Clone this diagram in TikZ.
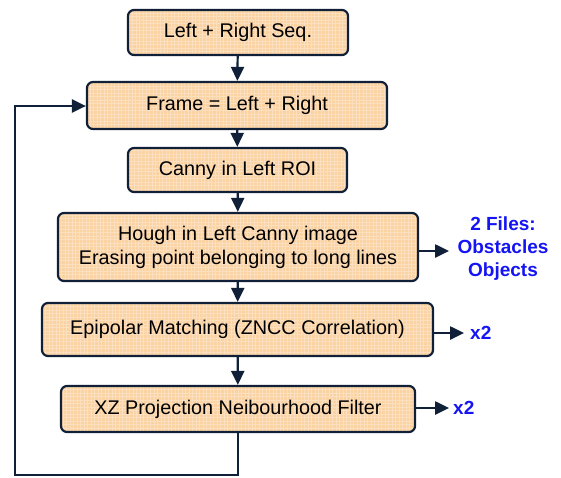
\documentclass[tikz,border=0pt]{standalone}
\usepackage{fontspec}
\setmainfont{Liberation Sans}
\usetikzlibrary{arrows.meta}
\definecolor{boxfill}{RGB}{251,210,162}
\definecolor{navy}{RGB}{16,32,56}
\definecolor{lblue}{RGB}{20,20,245}
\begin{document}
\begin{tikzpicture}[x=1pt,y=-1pt,
  procbox/.style={draw=navy,line width=2.2pt,fill=boxfill,rounded corners=6pt,inner sep=0pt,font=\fontsize{19.8}{24}\selectfont,align=center,
    path picture={\draw[white,opacity=0.3,line width=0.6pt,step=3.5pt] (path picture bounding box.south west) grid (path picture bounding box.north east);}},
  flow/.style={draw=navy,line width=2.2pt,-{Triangle[length=14pt,width=13pt]}},
  bluetext/.style={text=lblue,font=\bfseries\fontsize{19}{23}\selectfont,align=center,inner sep=0pt}]
\useasboundingbox (0,0) rectangle (561,477);
\node[procbox,minimum width=220pt,minimum height=45pt] (b1) at (238,32.5) {Left + Right Seq.};
\node[procbox,minimum width=300pt,minimum height=47pt] (b2) at (237,105.5) {Frame = Left + Right};
\node[procbox,minimum width=219pt,minimum height=44pt] (b3) at (237.5,170) {Canny in Left ROI};
\node[procbox,minimum width=360pt,minimum height=68pt] (b4) at (238,247) {Hough in Left Canny image\\Erasing point belonging to long lines};
\node[procbox,minimum width=391pt,minimum height=53pt] (b5) at (237.5,329.5) {Epipolar Matching (ZNCC Correlation)};
\node[procbox,minimum width=354pt,minimum height=46pt] (b6) at (238,409) {XZ Projection Neibourhood Filter};
\node[bluetext] (t4) at (503,249) {2 Files:\\Obstacles\\Objects};
\node[bluetext,anchor=west] (t5) at (470,333) {x2};
\node[bluetext,anchor=west] (t6) at (453,408) {x2};
\coordinate (c1) at (238,475);
\coordinate (c2) at (15,475);
\coordinate (c3) at (15,106);
\draw[flow] (b1) -- (b2);
\draw[flow] (b2) -- (b3);
\draw[flow] (b3) -- (b4);
\draw[flow] (b4) -- (b5);
\draw[flow] (b5) -- (b6);
\draw[flow] (b4.east |- 0,251) -- ++(30,0) coordinate (e4);
\draw[flow] (b5.east |- 0,333) -- ++(30,0) coordinate (e5);
\draw[flow] (b6.east |- 0,408) -- ++(33,0) coordinate (e6);
\draw[flow] (b6.south) -- (c1) -- (c2) -- (c3) -- (b2.west |- c3);
\end{tikzpicture}
\end{document}
